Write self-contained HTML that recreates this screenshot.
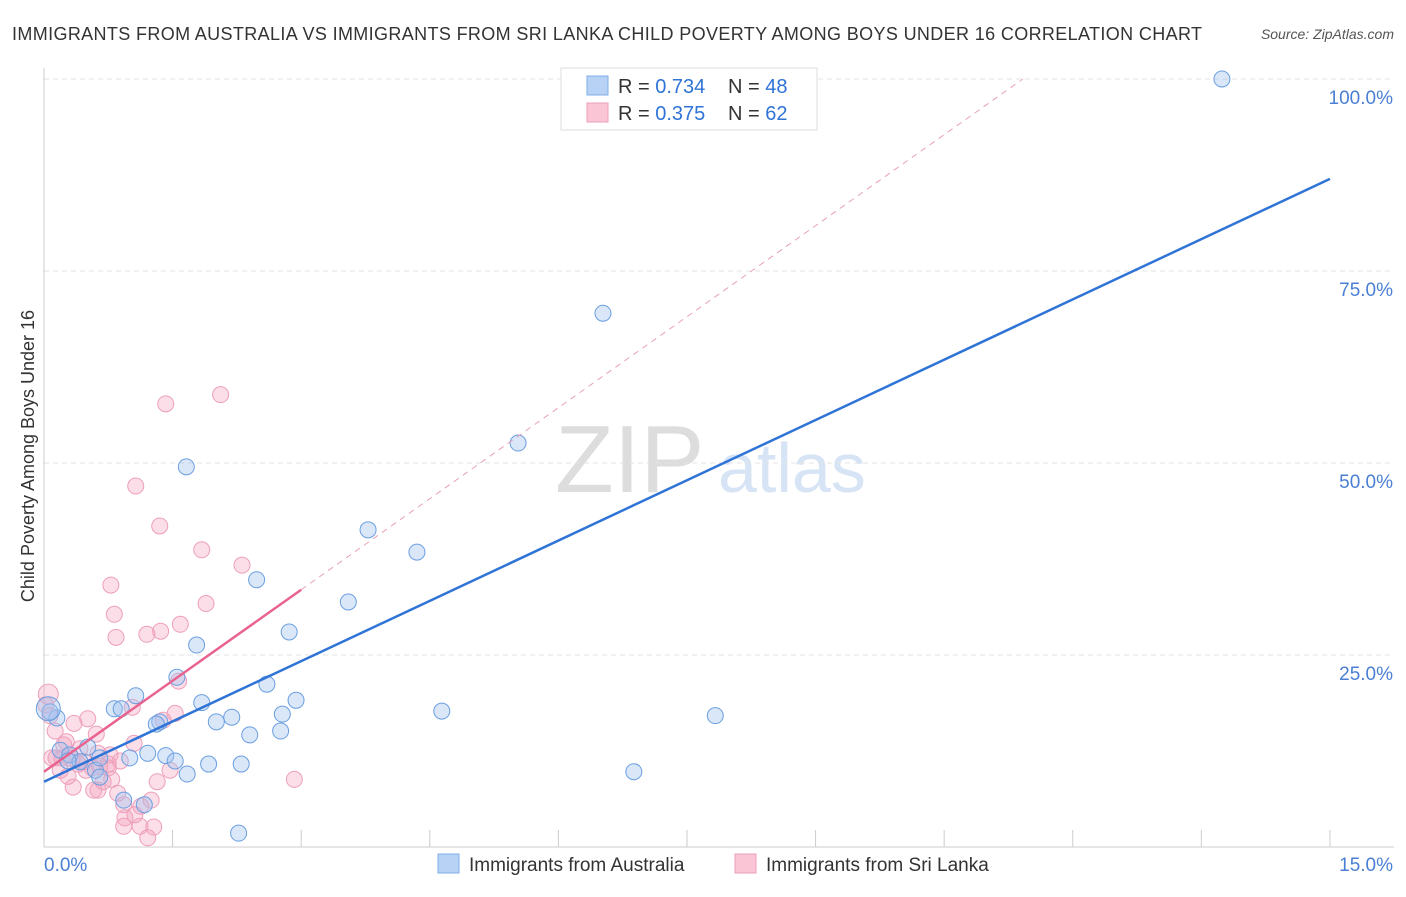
<!DOCTYPE html>
<html><head><meta charset="utf-8"><style>
body{margin:0;background:#fff;font-family:"Liberation Sans",sans-serif}
svg text{font-family:"Liberation Sans",sans-serif}
</style></head><body>
<svg id="c" width="1406" height="892">
<text x="12" y="40" font-size="18" fill="#333" textLength="1190" lengthAdjust="spacing">IMMIGRANTS FROM AUSTRALIA VS IMMIGRANTS FROM SRI LANKA CHILD POVERTY AMONG BOYS UNDER 16 CORRELATION CHART</text>
<text x="1394" y="39" font-size="14" fill="#555" font-style="italic" text-anchor="end">Source: ZipAtlas.com</text>
<text x="555" y="492" font-size="96" fill="#ddd" font-family="Liberation Serif">ZIP</text>
<text x="718" y="492" font-size="70" fill="#d6e4f5">atlas</text>
<text transform="translate(34,456) rotate(-90)" font-size="18" fill="#333" text-anchor="middle">Child Poverty Among Boys Under 16</text>
<g id="grid"></g><g id="pts"></g><g id="lines"></g>
<g>
<rect x="561" y="68" width="256" height="62" fill="#fff" stroke="#ddd"/>
<rect x="587" y="76" width="21" height="19" fill="#b7d2f5" stroke="#7faee8"/>
<rect x="587" y="103" width="21" height="19" fill="#fac6d6" stroke="#ee9fba"/>
<text x="618" y="93" font-size="20" fill="#333">R = <tspan fill="#2f74d6">0.734</tspan></text>
<text x="728" y="93" font-size="20" fill="#333">N = <tspan fill="#2f74d6">48</tspan></text>
<text x="618" y="120" font-size="20" fill="#333">R = <tspan fill="#2f74d6">0.375</tspan></text>
<text x="728" y="120" font-size="20" fill="#333">N = <tspan fill="#2f74d6">62</tspan></text>
</g>
<g>
<rect x="438" y="854" width="21" height="19" fill="#b7d2f5" stroke="#7faee8"/>
<text x="469" y="871" font-size="19" fill="#333">Immigrants from Australia</text>
<rect x="735" y="854" width="21" height="19" fill="#fac6d6" stroke="#ee9fba"/>
<text x="766" y="871" font-size="19" fill="#333">Immigrants from Sri Lanka</text>
</g>
</svg>
<script>
const yTicks=[25,50,75,100];
const yTickLabels=["25.0%","50.0%","75.0%","100.0%"];
const blueX=[13.74,6.52,5.53,1.66,3.78,4.35,2.48,3.55,2.86,1.78,1.55,2.60,1.07,2.94,1.84,0.82,0.90,4.64,7.83,2.78,2.19,2.01,1.35,1.31,2.76,2.40,1.42,0.15,0.07,0.19,0.51,0.30,0.42,1.00,1.21,1.53,1.92,2.30,0.60,0.65,1.67,6.88,0.93,1.17,2.27,0.05,0.65,0.28];
const blueY=[100,69.5,52.6,49.5,41.3,38.4,34.8,31.9,28.0,26.3,22.1,21.2,19.7,19.1,18.8,18.0,18.0,17.7,17.1,17.3,16.9,16.3,16.3,16.0,15.1,14.6,11.9,16.8,17.6,12.6,13.0,12.0,11.1,11.6,12.2,11.2,10.8,10.8,10.0,9.1,9.5,9.8,6.1,5.5,1.8,18.0,11.6,11.2];
const pinkX=[2.06,1.42,1.07,1.35,1.84,2.31,0.78,1.89,0.82,1.59,1.36,1.20,0.84,1.57,0.05,1.03,1.53,0.51,0.35,1.39,0.07,0.13,0.61,0.26,1.05,0.77,0.63,0.21,0.33,0.09,0.47,0.40,0.65,0.75,0.19,0.56,1.47,2.92,1.32,0.34,0.69,0.63,0.86,1.25,0.93,1.13,1.06,0.944,1.12,0.93,1.28,1.21,0.02,0.49,0.75,0.23,0.42,0.14,0.79,0.28,0.89,0.58];
const pinkY=[58.9,57.7,47.0,41.8,38.7,36.7,34.1,31.7,30.3,29.0,28.1,27.7,27.3,21.6,19.9,18.2,17.4,16.7,16.1,16.5,17.1,15.1,14.7,13.7,13.5,12.0,12.2,11.6,11.5,11.6,11.1,10.8,10.5,10.8,10.0,10.3,10.0,8.8,8.5,7.8,8.5,7.4,7.0,6.1,5.5,5.3,4.2,3.8,2.7,2.7,2.6,1.2,18.5,10.0,10.3,13.3,12.8,11.6,8.8,9.2,11.2,7.4];
const blueLine=[8.5,87.0];
const pinkLine=[9.8,33.5];
const pinkLineEnd=3;
const X=v=>44+v*85.73, Y=v=>847-v*7.68;
const NS="http://www.w3.org/2000/svg";
function mk(t,a,p){const e=document.createElementNS(NS,t);for(const k in a)e.setAttribute(k,a[k]);p.appendChild(e);return e;}
const grid=document.getElementById('grid');
yTicks.forEach((t,i)=>{
 const l=mk('line',{x1:44,x2:1394,y1:Y(t),y2:Y(t),stroke:'#e3e3e3','stroke-dasharray':'5,4'},grid);
 
 
 const tx=mk('text',{x:1393,y:Y(t)+25,'font-size':19,fill:'#4a7fd4','text-anchor':'end'},grid);
 tx.textContent=yTickLabels[i];
 
 
});
const ax=mk('line',{x1:44,x2:44,y1:68,y2:847,stroke:'#ccc'},grid);


const bx=mk('line',{x1:44,x2:1394,y1:847,y2:847,stroke:'#ccc'},grid);


for(let i=0;i<=10;i++){const t=mk('line',{x1:X(i*1.5),x2:X(i*1.5),y1:830,y2:847,stroke:'#ccc'},grid);
 
 }
[["0.0%",44,'start'],["15.0%",1393,'end']].forEach(d=>{const t=mk('text',{x:d[1],y:871,'font-size':19,fill:'#4a7fd4','text-anchor':d[2]},grid);t.textContent=d[0];
 
 });
const pts=document.getElementById('pts');
pinkX.forEach((x,i)=>{const c=mk('circle',{cx:X(x),cy:Y(pinkY[i]),r:i==14?10:8,fill:'rgba(244,160,188,0.35)',stroke:'#ee9fba','stroke-width':1},pts);
 
 });
blueX.forEach((x,i)=>{const c=mk('circle',{cx:X(x),cy:Y(blueY[i]),r:i==45?12:8,fill:'rgba(160,196,240,0.4)',stroke:'#6b9fe0','stroke-width':1},pts);
 
 });
const lines=document.getElementById('lines');
const bl=mk('line',{x1:X(0),y1:Y(blueLine[0]),x2:X(15),y2:Y(blueLine[1]),stroke:'#2f74d6','stroke-width':2.5},lines);


const slope=(pinkLine[1]-pinkLine[0])/pinkLineEnd;
const xe=(100-pinkLine[0])/slope;
const pd=mk('line',{x1:X(pinkLineEnd),y1:Y(pinkLine[1]),x2:X(xe),y2:Y(100),stroke:'#e8a0b8','stroke-width':1,'stroke-dasharray':'6,5'},lines);


const pl=mk('line',{x1:X(0),y1:Y(pinkLine[0]),x2:X(pinkLineEnd),y2:Y(pinkLine[1]),stroke:'#e8638f','stroke-width':2.5},lines);


</script>
</body></html>
